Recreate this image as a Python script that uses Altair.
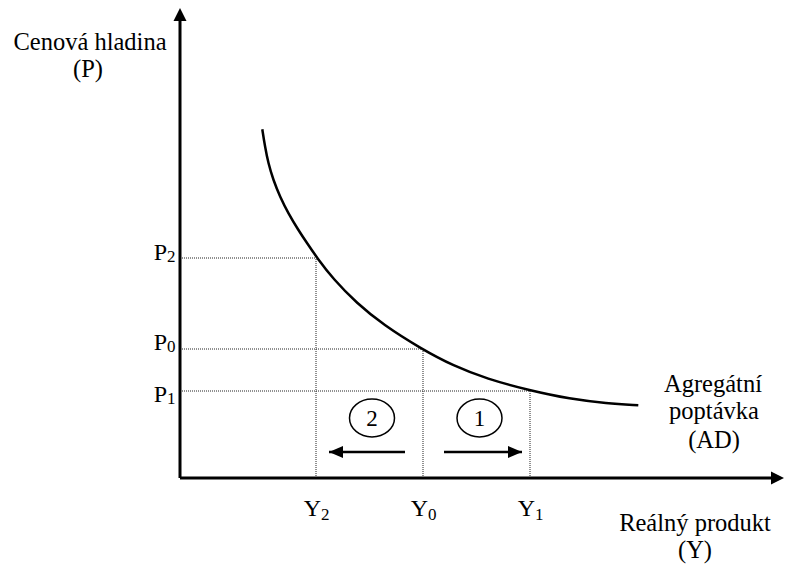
import altair as alt
import pandas as pd

# ---- data (economic units: real output Y, price level P) ----
y_levels = [13.6, 24.3, 35.0]          # Y2, Y0, Y1
p_levels = [22.0, 12.9, 8.7]           # P2, P0, P1
subs = ["2", "0", "1"]

ad_y = [8.23, 8.5, 8.83, 9.33, 10.0, 10.83, 11.83, 12.83, 13.67, 15.33, 17.67,
        20.33, 24.17, 27.33, 30.67, 35.0, 39.0, 42.67, 45.83]
ad_p = [34.87, 33.13, 31.47, 29.8, 28.13, 26.47, 24.8, 23.3, 22.07, 19.88, 17.49,
        15.31, 12.89, 11.22, 9.92, 8.75, 7.91, 7.47, 7.27]

shift_start = [22.5, 26.4]
shift_end = [14.9, 34.2]
shift_level = 2.6
shift_nums = ["2", "1"]
shift_circle_x = [19.2, 29.95]
shift_circle_y = 6.0

x_axis_end = 60.4
y_axis_end = 47.0

FONT = "Liberation Serif"
X_DOM = [-17.2, 60.4]
Y_DOM = [-8.6, 47.0]

xs = alt.Scale(domain=X_DOM, nice=False, zero=False)
ys = alt.Scale(domain=Y_DOM, nice=False, zero=False)


def X(f="x"):
    return alt.X(f"{f}:Q", scale=xs, axis=None)


def Yc(f="y"):
    return alt.Y(f"{f}:Q", scale=ys, axis=None)


layers = []

# dotted guides
guides = []
for yv, pv in zip(y_levels, p_levels):
    guides.append({"x": 0, "y": pv, "x2": yv, "y2": pv})
    guides.append({"x": yv, "y": 0, "x2": yv, "y2": pv})
layers.append(
    alt.Chart(pd.DataFrame(guides)).mark_rule(color="#222", strokeWidth=1, strokeDash=[1, 1]).encode(
        x=X(), y=Yc(), x2="x2:Q", y2="y2:Q")
)

# axes
axes = pd.DataFrame([
    {"x": 0, "y": 0, "x2": 0, "y2": y_axis_end - 0.8},
    {"x": 0, "y": 0, "x2": x_axis_end - 0.8, "y2": 0},
])
layers.append(
    alt.Chart(axes).mark_rule(color="black", strokeWidth=3).encode(x=X(), y=Yc(), x2="x2:Q", y2="y2:Q")
)
UP = "M 0 0 L -0.5 1 L 0.5 1 Z"
RIGHT = "M 0 0 L -1 -0.5 L -1 0.5 Z"
LEFT = "M 0 0 L 1 -0.43 L 1 0.43 Z"
RIGHT2 = "M 0 0 L -1 -0.43 L -1 0.43 Z"
layers.append(
    alt.Chart(pd.DataFrame([{"x": 0, "y": y_axis_end}])).mark_point(
        shape=UP, filled=True, color="black", opacity=1, size=13 * 13 * 4, strokeWidth=0).encode(x=X(), y=Yc())
)
layers.append(
    alt.Chart(pd.DataFrame([{"x": x_axis_end, "y": 0}])).mark_point(
        shape=RIGHT, filled=True, color="black", opacity=1, size=13 * 13 * 4, strokeWidth=0).encode(x=X(), y=Yc())
)

# AD curve
layers.append(
    alt.Chart(pd.DataFrame({"x": ad_y, "y": ad_p})).mark_line(
        color="black", strokeWidth=2.5, interpolate="basis").encode(x=X(), y=Yc(), order="x:Q")
)

# shift arrows
shifts = pd.DataFrame({"x": shift_start, "x2": shift_end, "y": [shift_level] * 2})
layers.append(
    alt.Chart(shifts).mark_rule(color="black", strokeWidth=2.5).encode(x=X(), x2="x2:Q", y=Yc())
)
layers.append(
    alt.Chart(pd.DataFrame([{"x": shift_end[0], "y": shift_level}])).mark_point(
        shape=LEFT, filled=True, color="black", opacity=1, size=14 * 14 * 4, strokeWidth=0).encode(x=X(), y=Yc())
)
layers.append(
    alt.Chart(pd.DataFrame([{"x": shift_end[1], "y": shift_level}])).mark_point(
        shape=RIGHT2, filled=True, color="black", opacity=1, size=14 * 14 * 4, strokeWidth=0).encode(x=X(), y=Yc())
)

# circled numbers
circ = pd.DataFrame({"x": shift_circle_x, "y": [shift_circle_y] * 2, "t": shift_nums})
ELLIPSE = "M -1 0 A 1 0.84 0 1 0 1 0 A 1 0.84 0 1 0 -1 0 Z"
layers.append(
    alt.Chart(circ).mark_point(shape=ELLIPSE, filled=False, color="black", opacity=1,
                               size=45 * 45, strokeWidth=1.5).encode(x=X(), y=Yc())
)
layers.append(
    alt.Chart(circ).mark_text(font=FONT, fontSize=23, baseline="middle", align="center", color="black", dy=1).encode(
        x=X(), y=Yc(), text="t:N")
)

# P tick labels
p_dy = [2, 1, 11]
for pv, s, d in zip(p_levels, subs, p_dy):
    df = pd.DataFrame([{"x": 0, "y": pv, "a": "P", "s": s}])
    layers.append(alt.Chart(df).mark_text(font=FONT, fontSize=24, align="right", baseline="alphabetic",
                                          dx=-13, dy=d, color="black").encode(x=X(), y=Yc(), text="a:N"))
    layers.append(alt.Chart(df).mark_text(font=FONT, fontSize=17, align="left", baseline="alphabetic",
                                          dx=-13, dy=d + 2, color="black").encode(x=X(), y=Yc(), text="s:N"))

# Y tick labels
for yv, s in zip(y_levels, subs):
    df = pd.DataFrame([{"x": yv, "y": 0, "a": "Y", "s": s}])
    layers.append(alt.Chart(df).mark_text(font=FONT, fontSize=24, align="right", baseline="alphabetic",
                                          dx=5, dy=38, color="black").encode(x=X(), y=Yc(), text="a:N"))
    layers.append(alt.Chart(df).mark_text(font=FONT, fontSize=17, align="left", baseline="alphabetic",
                                          dx=5, dy=42, color="black").encode(x=X(), y=Yc(), text="s:N"))

# axis titles and curve label
labels = pd.DataFrame([
    {"x": -9.0, "y": 42.8, "t": "Cenová hladina"},
    {"x": -9.2, "y": 40.1, "t": "(P)"},
    {"x": 51.5, "y": -5.3, "t": "Reálný produkt"},
    {"x": 51.5, "y": -7.95, "t": "(Y)"},
    {"x": 53.3, "y": 8.6, "t": "Agregátní"},
    {"x": 53.4, "y": 5.9, "t": "poptávka"},
    {"x": 53.4, "y": 3.0, "t": "(AD)"},
])
layers.append(
    alt.Chart(labels).mark_text(font=FONT, fontSize=24.5, align="center", baseline="alphabetic", color="black").encode(
        x=X(), y=Yc(), text="t:N")
)

chart = alt.layer(*layers).properties(
    width=776, height=556, padding=0, autosize=alt.AutoSizeParams(type="none")
).configure_view(stroke=None)

chart.save("out.html", embed_options={"renderer": "svg", "actions": False})
